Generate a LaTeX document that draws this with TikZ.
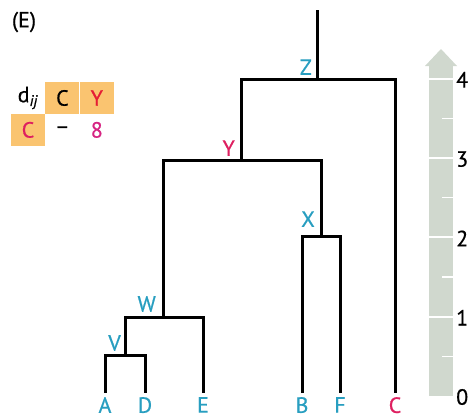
\documentclass[tikz,border=0pt]{standalone}
\usepackage{fontspec}
\setmainfont{PT Sans}[FakeBold=0.6]
\usetikzlibrary{positioning}
\definecolor{tcyan}{RGB}{40,158,192}
\definecolor{tmag}{RGB}{222,32,96}
\definecolor{tred}{RGB}{230,28,52}
\definecolor{tpink}{RGB}{214,36,130}
\definecolor{torange}{RGB}{250,196,112}
\definecolor{barcol}{RGB}{208,216,206}

\begin{document}
\begin{tikzpicture}[x=1pt, y=-1pt, font=\fontsize{22}{25}\selectfont, node distance=0pt]
\tikzstyle{branch}=[line width=3pt]
\tikzstyle{leaf}=[text=tcyan, inner sep=1pt]
\tikzstyle{inner}=[text=tcyan, inner sep=1pt]
\tikzstyle{cell}=[inner sep=0pt, minimum width=34pt, minimum height=31.5pt]
\useasboundingbox (0,0) rectangle (469,418);
\node (panel) at (24,22) {(E)};
% distance table
\node[cell] (dij) at (28,98) {d\textsubscript{\textit{ij}}};
\node[cell, fill=torange, right=of dij] (hc) {C};
\node[cell, fill=torange, text=tred, right=of hc] (hy) {Y};
\node[cell, fill=torange, text=tmag, below=of dij] (rc) {C};
\node[cell, below=of hc] (rd) {--};
\node[cell, text=tpink, below=of hy] (r8) {8};
% tree
\coordinate (a) at (105,393);
\coordinate (d) at (145,393);
\coordinate (e) at (203,393);
\coordinate (b) at (302,393);
\coordinate (f) at (340,393);
\coordinate (c) at (395,393);
\coordinate (v) at (125,355);
\coordinate (w) at (163,317);
\coordinate (x) at (321,236);
\coordinate (y) at (241,160);
\coordinate (z) at (317,79);
\coordinate (root) at (317,10);
\foreach \l/\n in {A/a,D/d,E/e,B/b,F/f}{\node[leaf, below=3pt of \n] (\l) {\l};}
\node[leaf, text=tmag, below=3pt of c] (C) {C};
\node[inner, above left=3pt and 3pt of v] (V) {V};
\node[inner, above left=4pt and 6pt of w] (W) {W};
\node[inner, above left=8pt and 5pt of x] (X) {X};
\node[inner, text=tmag, above left=3pt and 5pt of y] (Y) {Y};
\node[inner, above left=3pt and 4pt of z] (Z) {Z};
\foreach \p/\q/\r in {a/v/d,v/w/e,b/x/f,w/y/x,y/z/c}{\draw[branch] (\p) |- (\q) -| (\r);}
\draw[branch] (z) -- (root);
% scale bar
\fill[barcol] (429,396) rectangle (453,65);
\fill[barcol] (425,66) -- (441,49) -- (457,66) -- cycle;
\foreach \v in {1,...,4}{\draw[white, line width=2pt] (429,396-79.3*\v) -- (453,396-79.3*\v);}
\foreach \v in {0,...,3}{\draw[white, line width=1.2pt] (442,356.35-79.3*\v) -- (453,356.35-79.3*\v);}
\foreach \v in {0,...,4}{\node[anchor=west, inner sep=0pt] (s\v) at (456,397-79.3*\v) {\v};}
\end{tikzpicture}
\end{document}
